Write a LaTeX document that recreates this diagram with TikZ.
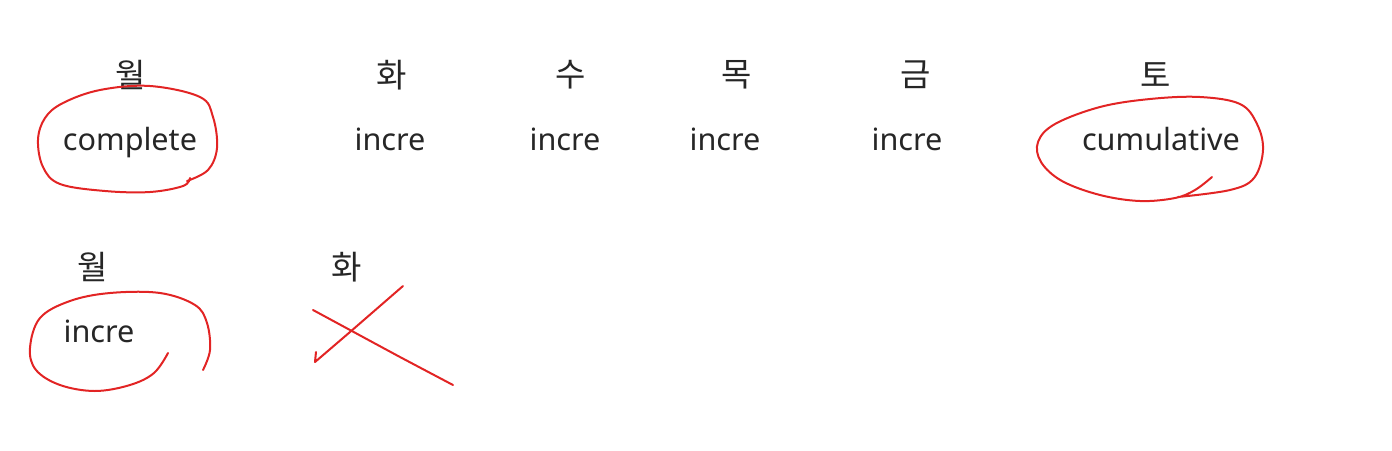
\documentclass[tikz,border=0pt]{standalone}
\usepackage{fontspec}
\setmainfont{Noto Sans}
\newfontfamily\kofont{Noto Sans CJK KR}
\usetikzlibrary{positioning}
\definecolor{ink1}{RGB}{38,38,38}
\definecolor{red1}{RGB}{226,36,36}

\begin{document}
\begin{tikzpicture}[x=0.5pt, y=-0.5pt]

\tikzstyle{day}		=[text=ink1, inner sep=0pt, font=\kofont\fontsize{16.5}{19}\selectfont]
\tikzstyle{kind}	=[text=ink1, inner sep=0pt, anchor=base, font=\fontsize{15.3}{18}\selectfont]
\tikzstyle{pen}		=[draw=red1, line width=1pt, line cap=round, line join=round]

\useasboundingbox (0,0) rectangle (1392,450);

% first week
\node[day] 	(mon1) at (131,75)	{월};
\node[day] 	(tue1) at (392,75)	{화};
\node[day] 	(wed1) at (571,75)	{수};
\node[day] 	(thu1) at (737,75)	{목};
\node[day] 	(fri1) at (916,75)	{금};
\node[day] 	(sat1) at (1156,75)	{토};

\node[kind] 	(k1) at (130,150)	{complete};
\node[kind] 	(k2) at (390,150)	{incre};
\node[kind] 	(k3) at (565,150)	{incre};
\node[kind] 	(k4) at (725,150)	{incre};
\node[kind] 	(k5) at (907,150)	{incre};
\node[kind] 	(k6) at (1161,150)	{cumulative};

% second week
\node[day] 	(mon2) at (93,267)	{월};
\node[day] 	(tue2) at (347,267)	{화};

\node[kind] 	(k7) at (99,342)	{incre};

% hand marks
\draw[pen] plot[smooth, tension=0.6] coordinates {(190,178) (183,186) (150,192) (105,191) (60,184) (43,167) (38,140) (45,118) (63,103) (100,90) (150,86) (200,97) (213,117) (217,148) (208,170) (187,181)};
\draw[pen] plot[smooth, tension=0.6] coordinates {(1212,177) (1195,190) (1175,198) (1140,201) (1100,195) (1062,181) (1041,162) (1038,142) (1055,124) (1100,107) (1150,99) (1200,97) (1240,104) (1257,124) (1263,150) (1254,178) (1230,190) (1178,197)};
\draw[pen] plot[smooth, tension=0.6] coordinates {(168,353) (154,373) (130,385) (95,391) (60,385) (36,370) (30,348) (40,318) (70,301) (110,293) (160,293) (195,305) (207,323) (210,350) (203,370)};
\draw[pen] plot[smooth, tension=0.3] coordinates {(313,310) (350,330) (400,357) (453,385)};
\draw[pen] (316,352) -- (315,362) -- (350,332) -- (403,286);

\end{tikzpicture}
\end{document}
